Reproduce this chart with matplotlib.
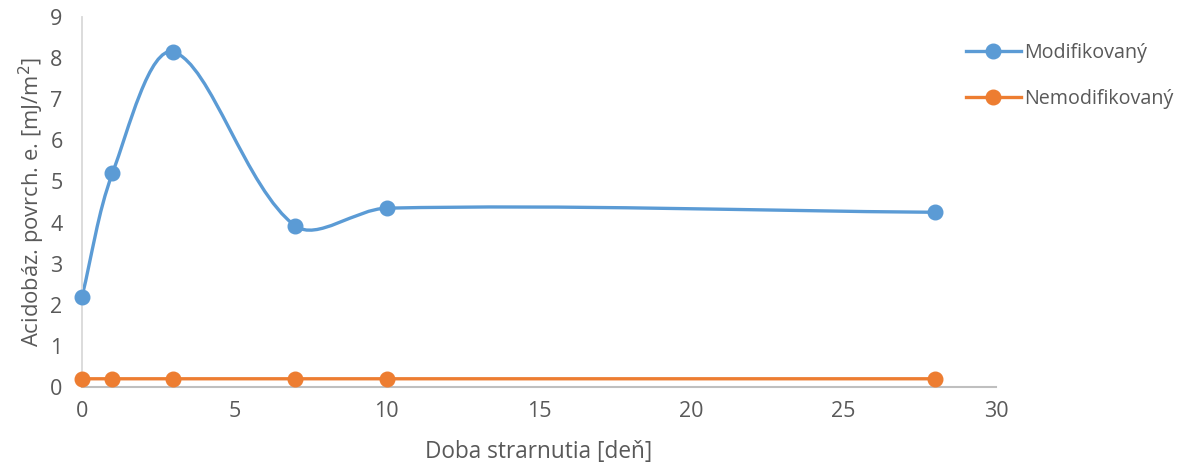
import matplotlib.pyplot as plt
import numpy as np
from matplotlib.path import Path
from matplotlib.patches import PathPatch
from matplotlib.lines import Line2D

# data
days = [0, 1, 3, 7, 10, 28]
modified = [2.2, 5.2, 8.15, 3.92, 4.35, 4.25]
unmodified = [0.2, 0.2, 0.2, 0.2, 0.2, 0.2]
series_names = ['Modifikovaný', 'Nemodifikovaný']
colors = ['#5b9bd5', '#ed7d31']

plt.rcParams['font.family'] = ['Open Sans', 'DejaVu Sans']
text_col = '#595959'

# pixel per data unit, used so smoothing behaves like it would on screen
sx, sy = 914 / 30, 370 / 9


def smooth_path(x, y):
    # smoothed line, tangents scaled by segment length (done in pixel space)
    p = np.column_stack([np.array(x) * sx, np.array(y) * sy]).astype(float)
    n = len(p)
    seg = np.linalg.norm(np.diff(p, axis=0), axis=1)
    tang = []
    for i in range(n):
        if i == 0:
            d = (p[1] - p[0]) / seg[0]
        elif i == n - 1:
            d = (p[-1] - p[-2]) / seg[-1]
        else:
            d = (p[i + 1] - p[i - 1]) / (seg[i - 1] + seg[i])
        tang.append(d)
    verts = [p[0]]
    codes = [Path.MOVETO]
    for i in range(n - 1):
        L = seg[i] / 3.0
        verts += [p[i] + tang[i] * L, p[i + 1] - tang[i + 1] * L, p[i + 1]]
        codes += [Path.CURVE4] * 3
    verts = np.array(verts) / [sx, sy]
    return Path(verts, codes)


fig = plt.figure(figsize=(11.88, 4.70), dpi=100)
ax = fig.add_axes([82 / 1188, 1 - 387 / 470, (996 - 82) / 1188, (387 - 17) / 470])

for ys, c in zip([modified, unmodified], colors):
    ax.add_patch(PathPatch(smooth_path(days, ys), facecolor='none', edgecolor=c,
                           lw=2.4, capstyle='round', zorder=2))
    ax.plot(days, ys, 'o', color=c, ms=10.5, zorder=3, clip_on=False)

ax.set_xlim(0, 30)
ax.set_ylim(0, 9)
ax.set_xticks(np.arange(0, 31, 5))
ax.set_yticks(np.arange(0, 10, 1))
ax.tick_params(length=0, labelsize=15.5, labelcolor=text_col)
ax.tick_params(axis='x', pad=10)
ax.tick_params(axis='y', pad=14)
for s in ['top', 'right']:
    ax.spines[s].set_visible(False)
ax.spines['left'].set_color('#d9d9d9')
ax.spines['bottom'].set_color('#bfbfbf')
ax.spines['left'].set_linewidth(1.3)
ax.spines['bottom'].set_linewidth(1.5)

ax.set_xlabel('Doba strarnutia [deň]', fontsize=16.3, color=text_col, labelpad=13)
ax.set_ylabel('Acidobáz. povrch. e. [mJ/m$^2$]', fontsize=15.8, color=text_col, labelpad=2)

handles = [Line2D([], [], color=c, lw=2.4, marker='o', ms=10.5) for c in colors]
leg = fig.legend(handles, series_names, loc='upper left', bbox_to_anchor=(948 / 1188, 1 - 25 / 470),
                 frameon=False, fontsize=14.2, labelspacing=1.35, handlelength=2.8,
                 handletextpad=0.15, labelcolor=text_col)

plt.savefig('out.png')
